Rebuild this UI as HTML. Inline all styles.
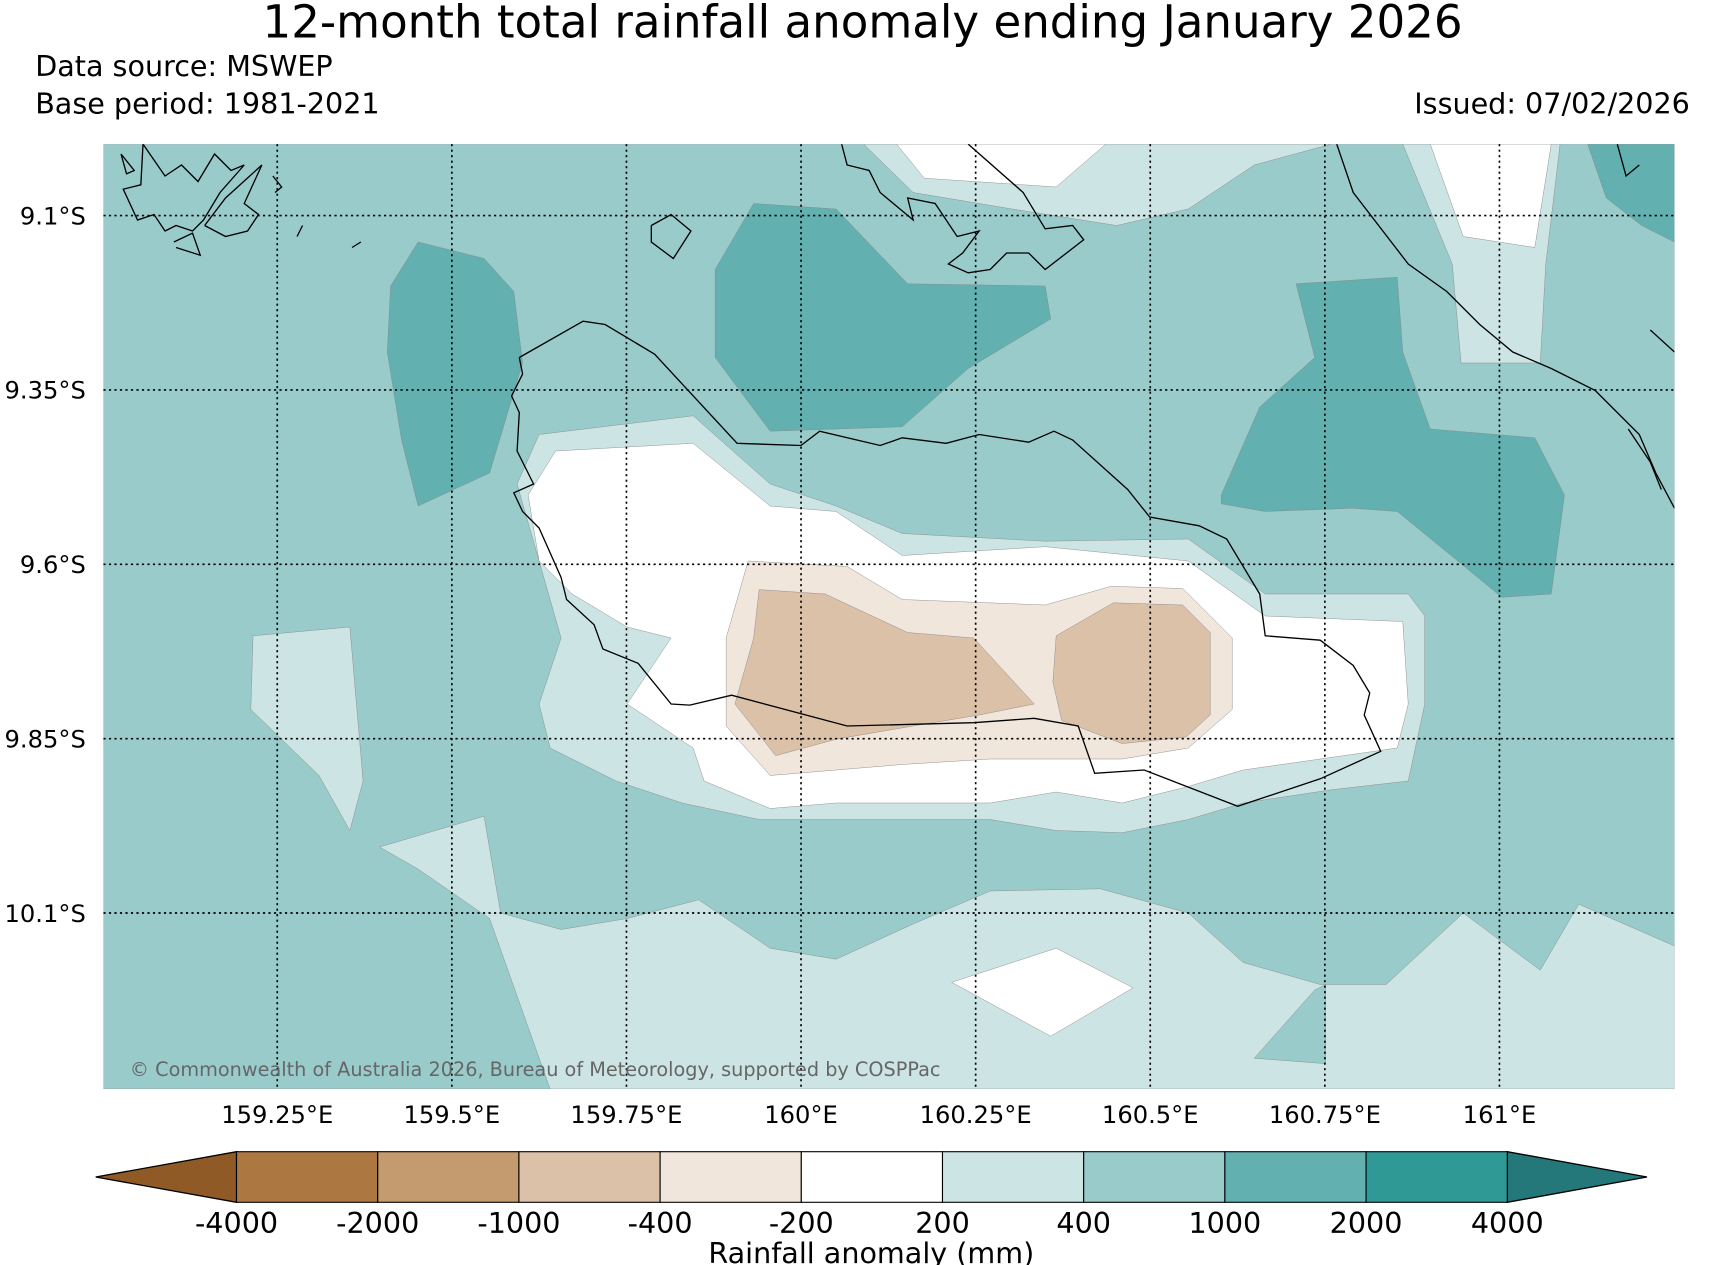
<!DOCTYPE html>
<html><head><meta charset="utf-8"><style>
html,body{margin:0;padding:0;background:#fff;}
svg{display:block;font-family:"DejaVu Sans","Liberation Sans",sans-serif;}
</style></head><body>
<svg id="chart" width="1724" height="1265" viewBox="0 0 1567 1150" preserveAspectRatio="none" xmlns="http://www.w3.org/2000/svg">
<text x="784" y="34" font-size="41" text-anchor="middle">12-month total rainfall anomaly ending January 2026</text>
<text x="32" y="69" font-size="26">Data source: MSWEP</text>
<text x="32" y="103" font-size="26">Base period: 1981-2021</text>
<text x="1536" y="103" font-size="26" text-anchor="end">Issued: 07/02/2026</text>
<defs><clipPath id="pc"><rect x="94" y="131" width="1428" height="859"/></clipPath></defs>
<g id="map" clip-path="url(#pc)"></g>
<g id="axes"></g>
<g id="cbar"></g>
<text x="792" y="1148" font-size="26" text-anchor="middle">Rainfall anomaly (mm)</text>
</svg>
<script>
const lonTicks=[159.25,159.5,159.75,160,160.25,160.5,160.75,161];
const lonLabels=["159.25°E","159.5°E","159.75°E","160°E","160.25°E","160.5°E","160.75°E","161°E"];
const latTicks=[9.1,9.35,9.6,9.85,10.1];
const latLabels=["9.1°S","9.35°S","9.6°S","9.85°S","10.1°S"];
const levels=[-4000,-2000,-1000,-400,-200,200,400,1000,2000,4000];
const levelColors=["#ad7741","#c49a6f","#dbc1a8","#f0e6dc","#ffffff","#cce5e4","#99cbcb","#62b0b0","#2f9a95"];
const extColors=["#8f5a26","#25787a"];
const X=lon=>252+(lon-159.25)/0.25*158.7;
const Y=lat=>196+(lat-9.1)/0.25*158.5;
const NS="http://www.w3.org/2000/svg";
function mk(tag,attrs,parent){const e=document.createElementNS(NS,tag);for(const k in attrs)e.setAttribute(k,attrs[k]);parent.appendChild(e);return e;}
const map=document.getElementById('map');
const C={w:"#ffffff",l:"#cce5e4",m:"#99cbcb",d:"#62b0b0",t:"#f0e6dc",b:"#dbc1a8"};
const shapes=[
["m","94,131 1522,131 1522,990 94,990"],
["l","785,131 830,175 920,190 1015,205 1080,190 1140,150 1210,131"],
["w","815,131 1005,131 960,170 840,162"],
["l","1275,131 1320,240 1328,330 1400,330 1405,240 1418,131"],
["w","1300,131 1330,215 1395,225 1410,131"],
["d","1443,131 1522,131 1522,220 1492,205 1460,180"],
["d","355,260 380,220 440,235 467,265 475,330 445,430 380,460 365,400 352,320"],
["d","650,245 685,185 760,190 825,258 950,260 955,290 880,335 820,388 700,392 650,325"],
["d","1110,450 1145,370 1195,325 1178,258 1270,252 1275,320 1300,390 1395,398 1422,450 1410,540 1365,543 1325,510 1270,465 1230,462 1150,465 1110,458"],
["l","470,440 490,395 630,378 700,440 760,460 820,485 950,492 1080,490 1150,540 1280,540 1295,560 1295,640 1280,710 1210,718 1130,730 1080,745 1020,757 960,755 900,745 800,745 690,745 620,730 560,710 500,680 490,640 510,580 490,510"],
["w","480,450 505,410 630,403 700,460 760,465 820,505 950,497 1080,510 1150,560 1275,565 1280,640 1270,680 1200,690 1130,700 1080,715 1020,730 960,720 900,730 760,730 700,735 640,710 630,680 600,660 570,640 610,580 570,570 520,540 490,510"],
["t","680,510 770,515 820,545 950,550 1010,533 1075,535 1120,580 1120,645 1080,680 1020,690 960,690 900,690 820,695 700,705 660,660 660,580"],
["b","690,536 750,540 825,575 885,580 940,640 890,650 830,660 760,672 705,687 668,640 685,580"],
["b","960,578 1012,548 1075,550 1100,575 1100,650 1078,670 1020,676 965,655 957,620"],
["l","230,578 318,570 330,710 318,755 290,705 228,645"],
["l","345,770 440,742 455,830 510,845 570,835 635,818 700,862 760,872 830,840 900,810 1000,808 1080,830 1130,875 1200,895 1260,895 1330,830 1400,882 1435,822 1522,860 1522,990 500,990 445,835 380,790"],
["m","1140,962 1195,900 1205,895 1205,967"],
["w","865,893 960,862 1030,898 955,942"]
];
shapes.forEach((s,i)=>{const p=mk('polygon',{points:s[1],fill:C[s[0]],stroke:"#888",'stroke-width':0.4},map);

});
const coasts=[
"472,325 530,292 550,295 595,322 670,403 728,405 745,392 800,405 820,398 860,403 890,395 935,402 958,392 975,400 1025,445 1045,470 1090,478 1115,490 1145,540 1150,578 1200,582 1230,605 1245,630 1240,650 1255,683 1200,708 1125,733 1040,700 995,703 980,660 940,653 885,657 770,660 665,632 627,641 610,640 580,603 548,590 540,568 515,545 510,525 490,480 475,465 467,448 485,440 470,410 472,375 465,360 475,340 472,325",
"765,131 770,150 790,155 800,175 830,200 825,180 850,185 860,200 870,215 890,210 875,230 862,240 880,248 900,245 915,230 935,230 950,245 985,218 975,205 950,208 930,175 880,131",
"1215,131 1230,175 1280,240 1315,265 1345,295 1375,320 1410,335 1450,355 1470,375 1490,395 1505,430 1522,462",
"592,205 610,195 628,210 612,235 592,220 592,205",
"110,140 122,155 115,158 110,140",
"130,131 150,160 165,150 180,165 195,140 210,155 222,150 200,175 185,200 175,210 160,205 150,210 140,195 125,200 112,172 128,168 130,131",
"186,205 205,180 238,150 222,185 235,195 225,210 205,215 186,205",
"158,220 175,212 182,232 160,225",
"248,160 256,170 250,175",
"320,225 328,220",
"275,205 270,215",
"1470,131 1478,160 1490,150",
"1500,300 1522,320",
"1480,390 1500,420 1510,445"
];
coasts.forEach((c,i)=>{const p=mk('polyline',{points:c,fill:"none",stroke:"#000",'stroke-width':1.2},map);

});
const axes=document.getElementById('axes');
lonTicks.forEach((v,i)=>{const l=mk('line',{x1:X(v),x2:X(v),y1:131,y2:990,stroke:"#000",'stroke-width':1.5,'stroke-dasharray':"2,3"},axes);


const t=mk('text',{x:X(v),y:1021,'font-size':22,'text-anchor':'middle'},axes);t.textContent=lonLabels[i];

});
latTicks.forEach((v,i)=>{const l=mk('line',{x1:94,x2:1522,y1:Y(v),y2:Y(v),stroke:"#000",'stroke-width':1.5,'stroke-dasharray':"2,3"},axes);


const t=mk('text',{x:78,y:Y(v)+8,'font-size':22,'text-anchor':'end'},axes);t.textContent=latLabels[i];

});
const cr=mk('text',{x:118,y:978,'font-size':17.5,fill:"#666"},axes);cr.textContent="© Commonwealth of Australia 2026, Bureau of Meteorology, supported by COSPPac";


const cb=document.getElementById('cbar');
const cx0=215,cx1=1370,cy0=1047,cy1=1093,bw=(cx1-cx0)/levelColors.length;
const tl=mk('polygon',{points:`${cx0},${cy0} ${cx0},${cy1} 87,${(cy0+cy1)/2}`,fill:extColors[0],stroke:"#000",'stroke-width':1.2},cb);


const tr=mk('polygon',{points:`${cx1},${cy0} ${cx1},${cy1} 1497,${(cy0+cy1)/2}`,fill:extColors[1],stroke:"#000",'stroke-width':1.2},cb);


levelColors.forEach((c,i)=>{const r=mk('rect',{x:cx0+i*bw,y:cy0,width:bw,height:cy1-cy0,fill:c,stroke:"#000",'stroke-width':1},cb);

});
levels.forEach((v,i)=>{const t=mk('text',{x:cx0+i*bw,y:1121,'font-size':26,'text-anchor':'middle'},cb);t.textContent=v;

});
</script>
</body></html>
